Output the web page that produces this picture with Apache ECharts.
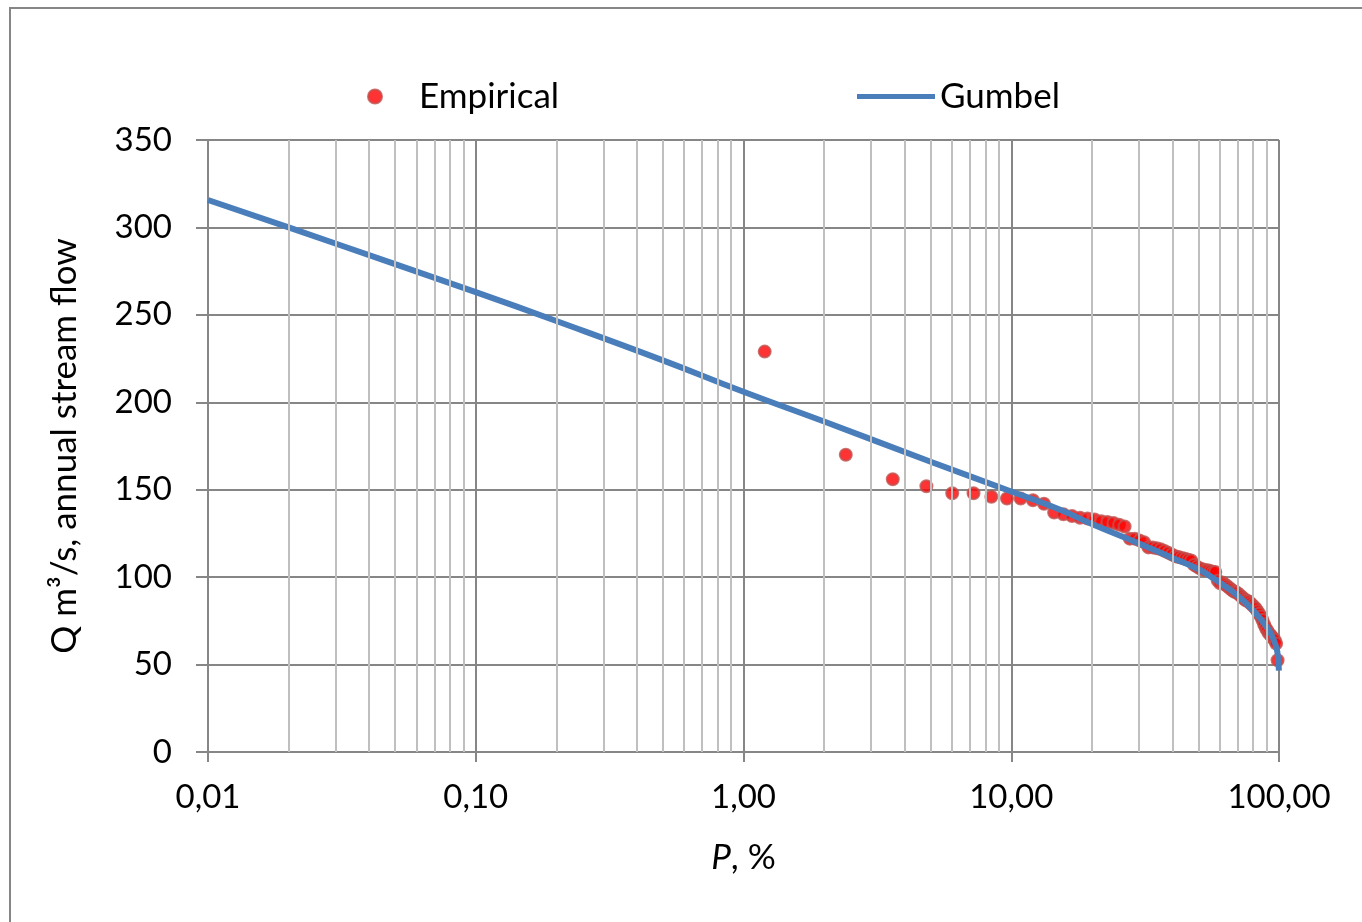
<!DOCTYPE html>
<html>
<head>
<meta charset="utf-8">
<script src="https://cdn.jsdelivr.net/npm/echarts@6/dist/echarts.min.js"></script>
<style>
  html, body { margin: 0; padding: 0; background: #fff; }
  #chart { width: 1362px; height: 922px; }
</style>
</head>
<body>
<div id="chart"></div>
<script>
// empirical exceedance probability, %
var empiricalP = [1.20, 2.41, 3.61, 4.82, 6.02, 7.23, 8.43, 9.64, 10.84, 12.05,
  13.25, 14.46, 15.66, 16.87, 18.07, 19.28, 20.48, 21.69, 22.89, 24.10,
  25.30, 26.51, 27.71, 28.92, 30.12, 31.33, 32.53, 33.73, 34.94, 36.14,
  37.35, 38.55, 39.76, 40.96, 42.17, 43.37, 44.58, 45.78, 46.99, 48.19,
  49.40, 50.60, 51.81, 53.01, 54.22, 55.42, 56.63, 57.83, 59.04, 60.24,
  61.45, 62.65, 63.86, 65.06, 66.27, 67.47, 68.67, 69.88, 71.08, 72.29,
  73.49, 74.70, 75.90, 77.11, 78.31, 79.52, 80.72, 81.93, 83.13, 84.34,
  85.54, 86.75, 87.95, 89.16, 90.36, 91.57, 92.77, 93.98, 95.18, 96.39,
  97.59, 98.80];
// annual stream flow, m3/s
var empiricalQ = [229, 170, 156, 152, 148, 148, 146, 145, 145, 144,
  142, 137, 136, 135, 134, 133.5, 133, 132, 131.5, 131,
  130, 129, 122, 122, 121, 120, 117, 117, 116.5, 116,
  115, 114, 113, 112, 111.5, 111, 110.5, 110, 109.5, 107,
  106, 105, 104.5, 104, 104, 103.5, 103, 103, 98, 96.5,
  97, 96, 95, 94, 93, 92, 91.5, 91, 90, 89,
  88, 87, 86.5, 86, 85, 84, 83, 82, 80.5, 79,
  77.5, 75.5, 73, 71, 69.5, 68, 67, 66, 65, 64,
  62, 52.5];

var gumbelP = [0.01, 0.02, 0.05, 0.1, 0.2, 0.5, 1, 2, 5, 10, 15, 20, 30, 40, 50,
  56, 60, 70, 80, 90, 95, 98, 99, 99.5, 99.9];
var gumbelQ = [315.7, 300, 279, 263, 246.5, 224, 206, 189, 166, 149, 139, 130.4,
  119.3, 111, 104.5, 100, 97, 89.5, 81, 71.5, 65, 59, 55, 51.5, 46.5];

// minor vertical grid lines (2..9 of every decade)
var minorGridP = [];
[0.01, 0.1, 1, 10].forEach(function (d) {
  for (var k = 2; k <= 9; k++) minorGridP.push(+(d * k).toFixed(4));
});

window.onload = function () {
  var chart = echarts.init(document.getElementById('chart'));
  var font = 'Lato';
  var gridDark = '#868686';

  var option = {
    animation: false,
    backgroundColor: '#fff',
    textStyle: { fontFamily: font, color: '#000' },
    graphic: [{
      type: 'rect',
      shape: { x: 10, y: 8, width: 1400, height: 1000 },
      style: { fill: 'none', stroke: gridDark, lineWidth: 2 },
      silent: true
    }],
    legend: [
      {
        left: 367, top: 79, padding: 0,
        itemWidth: 78, itemHeight: 14,
        data: [{ name: 'Empirical', icon: 'circle' }],
        textStyle: { fontFamily: font, fontSize: 35, color: '#000' }
      },
      {
        left: 857, top: 79, padding: 0,
        itemWidth: 78, itemHeight: 5,
        data: [{ name: 'Gumbel', icon: 'rect' }],
        textStyle: { fontFamily: font, fontSize: 35, color: '#000' }
      }
    ],
    grid: { left: 208, right: 83, top: 140, bottom: 170 },
    xAxis: {
      type: 'log',
      logBase: 10,
      min: 0.01,
      max: 100,
      name: '{i|P}, %',
      nameLocation: 'middle',
      nameGap: 88,
      nameTextStyle: {
        fontFamily: font, fontSize: 35, color: '#000',
        rich: { i: { fontFamily: font, fontSize: 35, fontStyle: 'italic', color: '#000' } }
      },
      axisLine: { lineStyle: { color: gridDark, width: 2 } },
      axisTick: { show: true, length: 10, lineStyle: { color: gridDark, width: 2 } },
      axisLabel: {
        fontFamily: font, fontSize: 33, color: '#000', margin: 29,
        formatter: function (v) { return v.toFixed(2).replace('.', ','); }
      },
      splitLine: { show: true, lineStyle: { color: gridDark, width: 2 } }
    },
    yAxis: {
      type: 'value',
      min: 0,
      max: 350,
      interval: 50,
      name: 'Q m³/s, annual stream flow',
      nameLocation: 'middle',
      nameGap: 126,
      nameTextStyle: { fontFamily: font, fontSize: 35, color: '#000' },
      axisLine: { show: true, lineStyle: { color: gridDark, width: 2 } },
      axisTick: { show: true, length: 12, lineStyle: { color: gridDark, width: 2 } },
      axisLabel: { fontFamily: font, fontSize: 33, color: '#000', margin: 36 },
      splitLine: { show: true, lineStyle: { color: gridDark, width: 2 } }
    },
    series: [
      {
        name: 'minor',
        type: 'line',
        data: [],
        z: 1,
        silent: true,
        markLine: {
          silent: true,
          symbol: 'none',
          label: { show: false },
          lineStyle: { color: '#bfbfbf', width: 2, type: 'solid' },
          data: minorGridP.map(function (p) { return { xAxis: p }; })
        }
      },
      {
        name: 'Empirical',
        type: 'scatter',
        symbolSize: 12,
        z: 3,
        itemStyle: { color: '#ff0000', borderColor: '#c0504d', borderWidth: 2 },
        data: empiricalP.map(function (p, i) { return [p, empiricalQ[i]]; })
      },
      {
        name: 'Gumbel',
        type: 'line',
        smooth: true,
        symbol: 'none',
        z: 4,
        lineStyle: { color: '#4a7ebb', width: 6 },
        itemStyle: { color: '#4a7ebb' },
        data: gumbelP.map(function (p, i) { return [p, gumbelQ[i]]; })
      }
    ]
  };

  chart.setOption(option);

  window.addEventListener('resize', function () {
    chart.resize();
  });
};
</script>
</body>
</html>
